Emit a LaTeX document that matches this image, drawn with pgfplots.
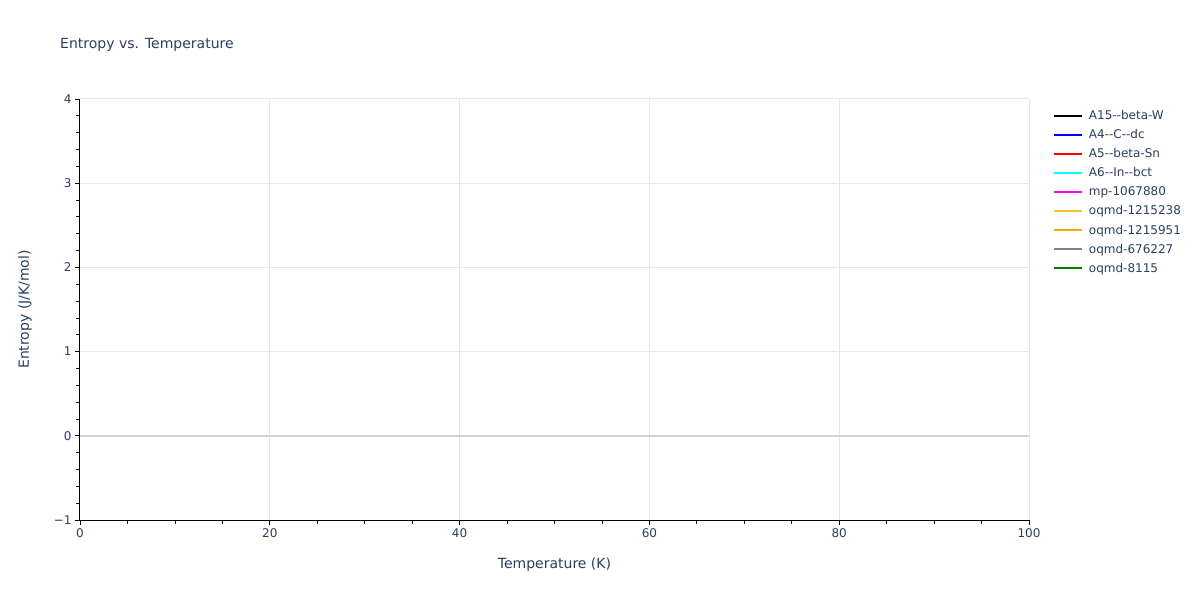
\documentclass[border=0pt]{standalone}
\usepackage{pgfplots}
\pgfplotsset{compat=1.18}
\usepackage{fontspec}
\setmainfont{DejaVu Sans}
\definecolor{txt}{HTML}{2A3F5F}
\definecolor{gridc}{HTML}{E6E6E6}
\definecolor{zeroc}{HTML}{D2D2D2}
\definecolor{cyanc}{HTML}{00FFFF}
\definecolor{magentac}{HTML}{FF00FF}
\definecolor{bluec}{HTML}{0000FF}
\definecolor{redc}{HTML}{FF0000}
\definecolor{goldc}{HTML}{F2C12E}
\definecolor{orangec}{HTML}{FFA500}
\definecolor{grayc}{HTML}{808080}
\definecolor{greenc}{HTML}{008000}
\begin{document}
\begin{tikzpicture}
    \begin{axis}[
            at={(0pt,0pt)}, anchor=south west,
            scale only axis,
            width=949pt, height=421pt,
            xmin=0, xmax=100, ymin=-1, ymax=4,
            axis lines*=left,
            axis line style={black, line width=1pt},
            xtick={0,20,...,100},
            ytick={-1,0,...,4},
            yticklabels={−1,0,1,2,3,4},
            minor x tick num=3,
            minor y tick num=4,
            tick align=outside,
            major tick length=5pt, minor tick length=4pt,
            tick style={black, line width=0.8pt},
            grid=major,
            major grid style={gridc, line width=1pt},
            extra y ticks={0},
            extra y tick labels={},
            extra y tick style={grid=major, major grid style={zeroc, line width=1.5pt}, major tick length=0pt},
            ticklabel style={font=\fontsize{12}{14}\selectfont, text=txt},
            /pgf/number format/assume math mode=true,
            xlabel={Temperature (K)},
            ylabel={Entropy (J/K/mol)},
            label style={font=\fontsize{14}{16}\selectfont, text=txt},
            xlabel style={at={(axis description cs:0.5,-0.107)}, anchor=center},
            ylabel style={at={(axis description cs:-0.058,0.5)}, anchor=center},
            legend cell align=left,
            legend style={at={(rel axis cs:1.025,0.978)}, anchor=north west,
                draw=none, fill=none, inner sep=0pt,
                font=\fontsize{12}{14}\selectfont, text=txt,
                row sep=4.5pt},
            legend image code/.code={\draw[#1] (0pt,0pt) -- (28pt,0pt); \path (32pt,0pt);},
        ]
            \addlegendimage{black, line width=2pt}
            \addlegendentry{A15-{}-beta-W}
            \addlegendimage{bluec, line width=2pt}
            \addlegendentry{A4-{}-C-{}-dc}
            \addlegendimage{redc, line width=2pt}
            \addlegendentry{A5-{}-beta-Sn}
            \addlegendimage{cyanc, line width=2pt}
            \addlegendentry{A6-{}-In-{}-bct}
            \addlegendimage{magentac, line width=2pt}
            \addlegendentry{mp-1067880}
            \addlegendimage{goldc, line width=2pt}
            \addlegendentry{oqmd-1215238}
            \addlegendimage{orangec, line width=2pt}
            \addlegendentry{oqmd-1215951}
            \addlegendimage{grayc, line width=2pt}
            \addlegendentry{oqmd-676227}
            \addlegendimage{greenc, line width=2pt}
            \addlegendentry{oqmd-8115}
    \end{axis}
    \node[anchor=west, inner sep=0pt, text=txt, font=\fontsize{14}{16}\selectfont] at (-20pt,475pt) {Entropy vs. Temperature};
    \path[use as bounding box] (-80pt,-80pt) rectangle (1120pt,520pt);
\end{tikzpicture}
\end{document}
